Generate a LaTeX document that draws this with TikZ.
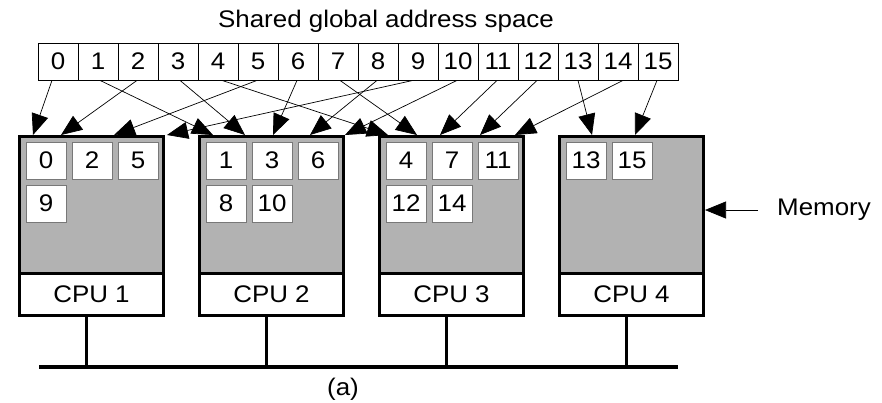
\documentclass[tikz,border=0pt]{standalone}
\usepackage{fontspec}
\setmainfont[FakeStretch=1.08]{Liberation Sans}
\usetikzlibrary{arrows.meta,calc}
\definecolor{memgray}{RGB}{178,178,178}
\definecolor{cellline}{RGB}{120,120,120}
\begin{document}
\begin{tikzpicture}[x=1pt,y=-1pt,
  font=\fontsize{24pt}{28pt}\selectfont,
  topcell/.style={draw=black, line width=0.8pt, fill=white, minimum width=40pt, minimum height=37pt, inner sep=0pt},
  incell/.style={draw=cellline, line width=1pt, fill=white, minimum width=40pt, minimum height=37pt, inner sep=0pt},
  membox/.style={draw=black, line width=3pt, fill=memgray, minimum width=144pt, minimum height=136.5pt, anchor=north west, inner sep=0pt},
  cpubox/.style={draw=black, line width=3pt, fill=white, minimum width=144pt, minimum height=42.5pt, anchor=north west, inner sep=0pt},
  arr/.style={-{Triangle[length=21pt,width=17pt]}, line width=0.7pt},
  stem/.style={line width=3.5pt},
  bus/.style={line width=4.5pt},
  lbl/.style={inner sep=0pt}]
\useasboundingbox (0,0) rectangle (882,402);

\node[lbl, anchor=base] (title) at (386,27) {Shared global address space};

\foreach \i in {0,...,15} {
  \node[topcell] (a\i) at ({58+40*\i},61.5) {\i};
}

% processor boxes
\foreach \k/\L in {1/18,2/198,3/378,4/558} {
  \node[membox] (m\k) at (\L,135) {};
  \node[cpubox] (c\k) at (\L,271.5) {CPU \k};
}

% memory cells
\foreach \L/\r/\c/\t in {18/0/0/0,18/0/1/2,18/0/2/5,18/1/0/9,
  198/0/0/1,198/0/1/3,198/0/2/6,198/1/0/8,198/1/1/10,
  378/0/0/4,378/0/1/7,378/0/2/11,378/1/0/12,378/1/1/14,
  558/0/0/13,558/0/1/15} {
  \node[incell] (b\t) at ({\L+28+46*\c},{160.5+43*\r}) {\t};
}

% mapping arrows
\foreach \i/\dx/\tx in {0/-6/33,1/2/213,2/-1/61,3/2/245,4/4/388,5/-1/114,
  6/-1/273,7/2/417,8/-1/310,9/-5/167,10/-1/345,11/-1/440,12/-1/480,
  13/0/592,14/5/515,15/-1/635} {
  \coordinate (t\i) at (\tx,135);
  \draw[arr] ($(a\i.south)+(\dx,0)$) -- (t\i);
}

% bus
\coordinate (busL) at (39,367);
\coordinate (busR) at (678,367);
\foreach \k in {1,...,4} {
  \coordinate (s\k) at ($(c\k.south)+(-5,0)$);
  \draw[stem] (s\k) -- (s\k |- busL);
}
\draw[bus] (busL) -- (busR);

% memory label
\node[lbl, anchor=west] (memlabel) at (777,210) {Memory};
\coordinate (memstart) at ($(memlabel.west)+(-19,0)$);
\draw[arr] (memstart) -- (m4.east |- memstart);

\node[lbl] (cap) at (343,389) {(a)};
\end{tikzpicture}
\end{document}
